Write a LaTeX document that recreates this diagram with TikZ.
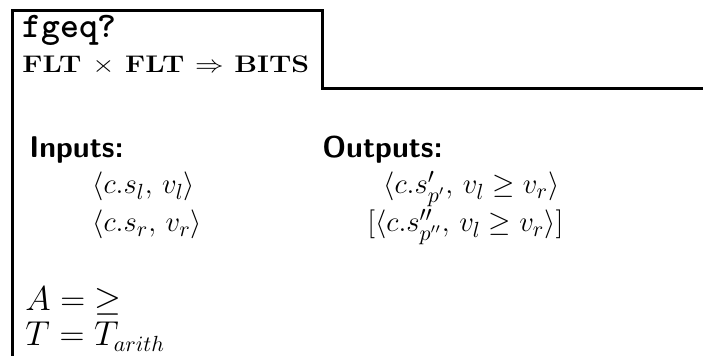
\documentclass[tikz,border=0pt]{standalone}
\usepackage{amsmath}
\usepackage{graphicx}
\usepackage{fontspec}
\usetikzlibrary{positioning}
\tikzset{
  frame/.style={draw=black, line width=1.5pt},
  opname/.style={anchor=base west, inner sep=0pt, font=\fontsize{18}{21}\selectfont\ttfamily\bfseries},
  signature/.style={anchor=base west, inner sep=0pt, font=\fontsize{12}{14}\selectfont\bfseries},
  heading/.style={anchor=base west, inner sep=0pt, font=\fontsize{15}{18}\selectfont\sffamily\bfseries},
  term/.style={anchor=base west, inner sep=0pt, font=\fontsize{15}{18}\selectfont},
  attr/.style={anchor=base west, inner sep=0pt, font=\fontsize{16}{19}\selectfont}
}

\begin{document}
\begin{tikzpicture}[x=0.5pt, y=-0.5pt]
  \useasboundingbox (0,0) rectangle (703,356);
  % outline with the name tab
  \coordinate (leftfoot) at (12,357);
  \coordinate (tabtl) at (12,11);
  \coordinate (tabtr) at (322,11);
  \coordinate (tabbr) at (322,89);
  \coordinate (rightend) at (704,89);
  \draw[frame] (leftfoot) -- (tabtl) -- (tabtr) -- (tabbr) -- (rightend);

  \node[opname] (opname) at (22,38) {fgeq?};
  \node[signature] (sig) at (22,73) {\scalebox{1.19}[1]{FLT $\times$ FLT $\Rightarrow$ BITS}};

  \node[heading] (inputs) at (29,158) {Inputs:};
  \node[heading] (outputs) at (322,158) {Outputs:};

  \node[term] (inl) at (92,194) {$\langle c.s_l,\, v_l\rangle$};
  \node[term] (inr) at (92,232) {$\langle c.s_r,\, v_r\rangle$};
  \node[term] (outa) at (383,194) {$\langle c.s'_{p'},\, v_l \geq v_r\rangle$};
  \node[term] (outb) at (367,232) {$[\langle c.s''_{p''},\, v_l \geq v_r\rangle]$};

  \node[attr] (arel) at (25,311) {$A = {\geq}$};
  \node[attr] (trel) at (25,346) {$T = T_{arith}$};
\end{tikzpicture}
\end{document}
